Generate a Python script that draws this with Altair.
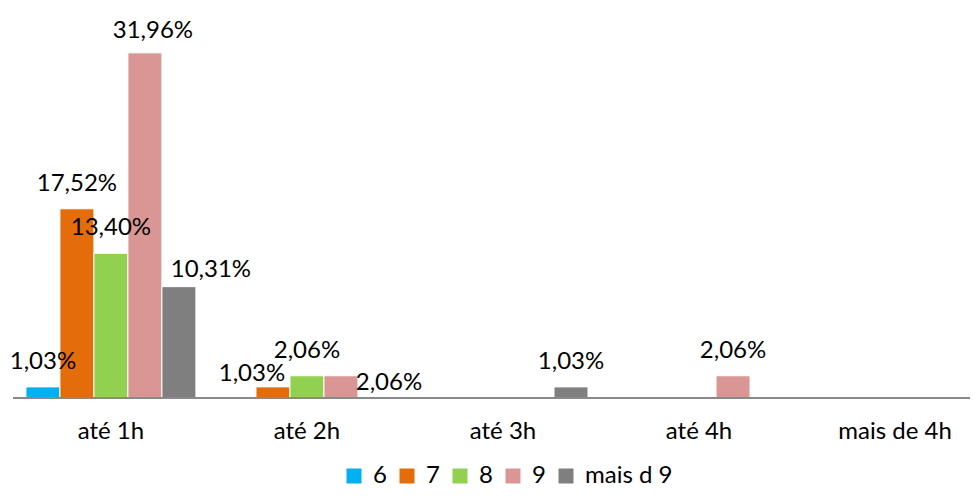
import altair as alt
import pandas as pd

categories = ["até 1h", "até 2h", "até 3h", "até 4h", "mais de 4h"]
series = ["6", "7", "8", "9", "mais d 9"]
colors = ["#00B0F0", "#E46C0A", "#92D050", "#D99694", "#7F7F7F"]

s6 = [1.03, 0, 0, 0, 0]
s7 = [17.52, 1.03, 0, 0, 0]
s8 = [13.40, 2.06, 0, 0, 0]
s9 = [31.96, 2.06, 0, 2.06, 0]
s_mais = [10.31, 0, 1.03, 0, 0]

rows = []
for s, vals in zip(series, [s6, s7, s8, s9, s_mais]):
    for c, v in zip(categories, vals):
        rows.append({"cat": c, "serie": s, "v": v,
                     "label": f"{v:.2f}".replace(".", ",") + "%"})
df = pd.DataFrame(rows)
df = df[df.v > 0]

FONT = "Lato"
FS = 24

x = alt.X("cat:N", sort=categories,
          scale=alt.Scale(domain=categories, range=[0, 980],
                          paddingInner=0.133, paddingOuter=0.066),
          axis=alt.Axis(title=None, labelAngle=0, domain=False, ticks=False,
                        grid=False, labelFont=FONT, labelFontSize=FS,
                        labelColor="#000000", labelPadding=21))
xo = alt.XOffset("serie:N", sort=series,
                 scale=alt.Scale(domain=series, paddingInner=0, paddingOuter=0))
y = alt.Y("v:Q", scale=alt.Scale(domain=[0, 35]), axis=None)

base = alt.Chart(df)

bars = base.mark_bar(stroke="white", strokeWidth=1).encode(
    x=x, xOffset=xo, y=y,
    color=alt.Color("serie:N", sort=series,
                    scale=alt.Scale(domain=series, range=colors),
                    legend=alt.Legend(title=None, orient="none", legendX=329, legendY=444,
                                      direction="horizontal", symbolType="square",
                                      symbolSize=225, symbolStrokeWidth=0,
                                      labelFont=FONT, labelFontSize=FS,
                                      labelColor="#000000", columnPadding=8,
                                      labelOffset=7, padding=0)),
)

# label nudges (style only): (category, series, dx, dy)
special = [
    ("até 1h", "9", 8, -22),
    ("até 1h", "mais d 9", 32, -17),
    ("até 2h", "7", -21, -13),
    ("até 2h", "9", 48, 7),
]

def label_layer(data_filter, dx, dy):
    return base.transform_filter(data_filter).mark_text(
        font=FONT, fontSize=FS, color="#000000", dx=dx, dy=dy, baseline="middle"
    ).encode(x=x, xOffset=xo, y=y, text="label:N")

normal_filter = " && ".join(
    f"!(datum.cat == '{a}' && datum.serie == '{b}')" for a, b, _, _ in special)
layers = [bars, label_layer(normal_filter, 0, -25)]
for a, b, dx, dy in special:
    layers.append(label_layer(f"datum.cat == '{a}' && datum.serie == '{b}'", dx, dy))

axis_line = alt.Chart(pd.DataFrame({"a": [0]})).mark_rule(
    color="#898989", strokeWidth=2
).encode(x=alt.value(0), x2=alt.value(957), y=alt.value(378))

chart = alt.layer(*layers, axis_line).properties(
    width=957, height=378,
    padding={"left": 5, "top": 12, "right": 0, "bottom": 90},
    autosize=alt.AutoSizeParams(type="none"),
).configure_view(stroke=None)

chart.save("out.html", embed_options={"renderer": "svg", "actions": False})
